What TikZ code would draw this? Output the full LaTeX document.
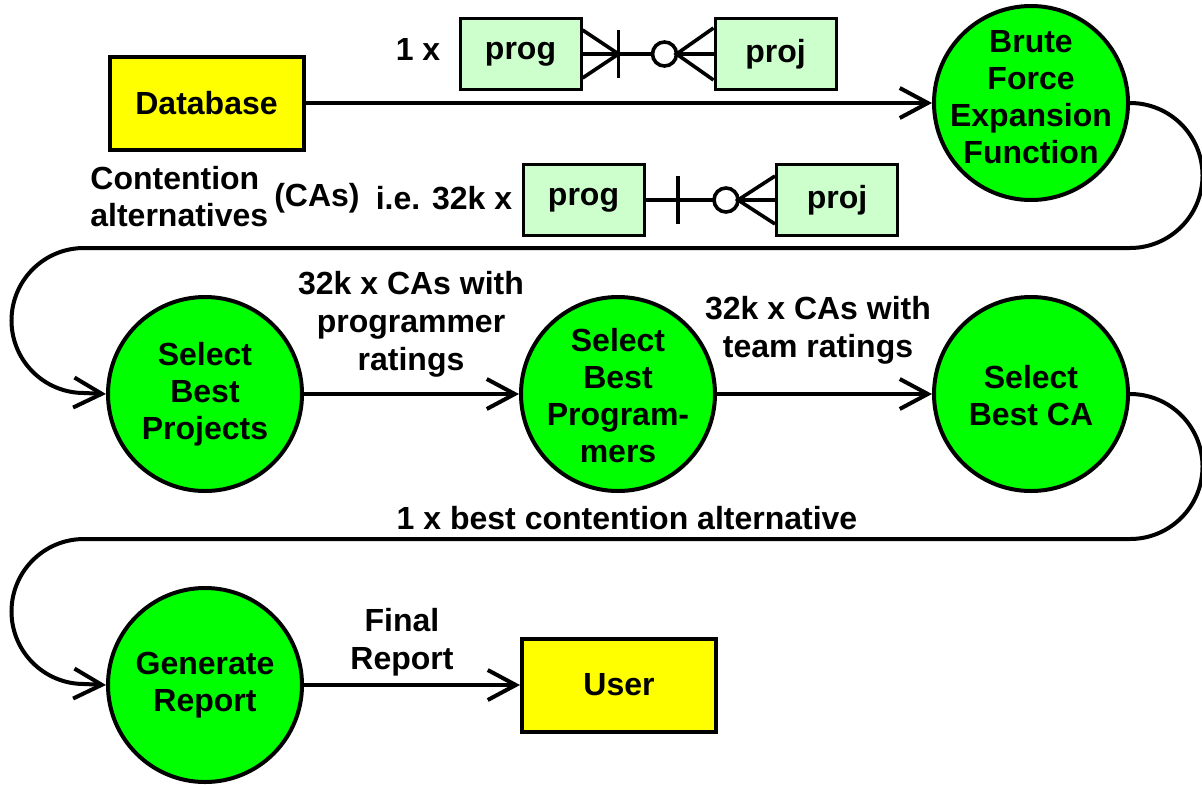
\documentclass[tikz,border=0pt]{standalone}
\usepackage{fontspec}
\setmainfont{Liberation Sans}
\usetikzlibrary{arrows.meta,calc}
\definecolor{procgreen}{HTML}{00FF00}
\definecolor{storeyellow}{HTML}{FFFF00}
\definecolor{entitygreen}{HTML}{CCFFCC}
\begin{document}
\begin{tikzpicture}[x=0.5pt,y=0.5pt,
  txt/.style={font=\bfseries\fontsize{16}{19}\selectfont,align=center,inner sep=0pt},
  proc/.style={circle,draw,line width=2pt,fill=procgreen,minimum size=97pt,inner sep=0pt},
  proctext/.style={font=\bfseries\fontsize{16}{18.5}\selectfont,align=center,inner sep=0pt},
  store/.style={rectangle,draw,line width=2pt,fill=storeyellow,minimum width=97pt,minimum height=46.5pt,
    font=\bfseries\fontsize{16}{19}\selectfont},
  entity/.style={rectangle,draw,line width=1.5pt,fill=entitygreen,minimum width=60.5pt,minimum height=35.5pt,
    font=\bfseries\fontsize{16}{19}\selectfont},
  flow/.style={line width=2pt,-{Straight Barb[length=14pt,width=15pt,line width=2pt]}},
  erline/.style={line width=1.8pt}
]
\useasboundingbox (0,0) rectangle (1202,784);

% data stores
\node[store] (db) at (206.5,681) {Database};
\node[store] (user) at (619,99) {User};

% processes: fixed-size circles with their names set on top
\node[proc] (bf)  at (1031,681) {};
\node[proctext] (bftext) at ($(bf)+(0,6)$) {Brute\\Force\\Expansion\\Function};
\node[proc] (sp)  at (205,390) {};
\node[proctext] (sptext) at (sp) {Select\\Best\\Projects};
\node[proc] (spg) at (618,390) {};
\node[proctext] (spgtext) at ($(spg)+(0,-2)$) {Select\\Best\\Program-\\mers};
\node[proc] (sca) at (1031,390) {};
\node[proctext] (scatext) at ($(sca)+(0,-2)$) {Select\\Best CA};
\node[proc] (gr)  at (205,99) {};
\node[proctext] (grtext) at (gr) {Generate\\Report};

% flows
\draw[flow] (db.east) -- (bf.west);
\draw[flow] (bf.east) arc[start angle=90,end angle=-90,radius=72.5]
  -- (84,536) arc[start angle=90,end angle=270,radius=72.5] -- (sp.west);
\draw[flow] (sp.east) -- (spg.west);
\draw[flow] (spg.east) -- (sca.west);
\draw[flow] (sca.east) arc[start angle=90,end angle=-90,radius=72.5]
  -- (84,245) arc[start angle=90,end angle=270,radius=72.5] -- (gr.west);
\draw[flow] (gr.east) -- (user.west);

% entity-relationship sketch: one programmer
\node[txt] (one) at (418,735) {1 x};
\node[entity] (prog1) at (520.5,730) {prog};
\node[entity] (proj1) at (775.5,730) {proj};
\coordinate (bar1) at ($(prog1.east)+(36,0)$);
\coordinate (ring1) at ($(proj1.west)+(-49,0)$);
\coordinate (apex1) at ($(ring1)+(12,0)$);
\draw[erline] (prog1.east) -- ($(ring1)+(-12,0)$);
\draw[erline] (ring1) circle[radius=12];
\draw[erline] (apex1) -- (proj1.west);
\draw[erline] ($(prog1.east)+(0,24)$) -- (bar1) -- ($(prog1.east)+(0,-24)$);
\draw[erline] ($(bar1)+(0,24)$) -- ($(bar1)+(0,-24)$);
\draw[erline] ($(proj1.west)+(0,26)$) -- (apex1) -- ($(proj1.west)+(0,-26)$);

% entity-relationship sketch: all contention alternatives
\node[txt,align=left,anchor=west] (cont) at (90,606) {Contention};
\node[txt,align=left,anchor=west] (alts) at (90,569) {alternatives};
\node[txt] (cas) at (317,586) {(CAs)};
\node[txt] (many) at (444,586) {i.e. 32k x};
\node[entity] (prog2) at (583.5,584) {prog};
\node[entity] (proj2) at (837,584) {proj};
\coordinate (bar2) at (678,584);
\coordinate (ring2) at (726,584);
\coordinate (apex2) at ($(ring2)+(12,0)$);
\draw[erline] (prog2.east) -- (proj2.west);
\draw[erline,fill=white] (ring2) circle[radius=12];
\draw[erline] ($(bar2)+(0,24)$) -- ($(bar2)+(0,-24)$);
\draw[erline] ($(proj2.west)+(0,24)$) -- (apex2) -- ($(proj2.west)+(0,-24)$);

% flow labels
\node[txt] (lab1) at (411,460) {32k x CAs with\\programmer\\ratings};
\node[txt] (lab2) at (818,454) {32k x CAs with\\team ratings};
\node[txt] (lab3) at (627,266) {1 x best contention alternative};
\node[txt] (lab4) at (402,142) {Final\\Report};
\end{tikzpicture}
\end{document}
